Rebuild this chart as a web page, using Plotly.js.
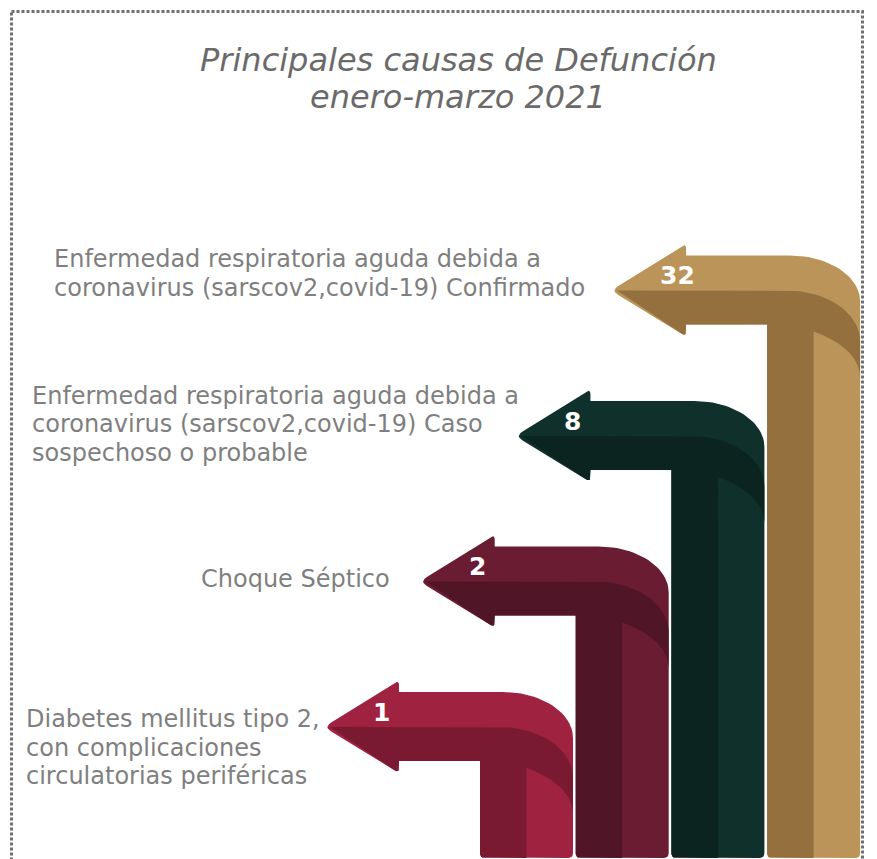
<!DOCTYPE html>
<html><head><meta charset="utf-8">
<script src="https://cdn.plot.ly/plotly-3.0.1.min.js"></script>
<style>html,body{margin:0;padding:0;background:#fff;} #chart{width:877px;height:859px;}</style>
</head><body><div id="chart"></div>
<script>
// ---- data ----
const categories = [
  "Enfermedad respiratoria aguda debida a<br>coronavirus (sarscov2,covid-19) Confirmado",
  "Enfermedad respiratoria aguda debida a<br>coronavirus (sarscov2,covid-19) Caso<br>sospechoso o probable",
  "Choque Séptico",
  "Diabetes mellitus tipo 2,<br>con complicaciones<br>circulatorias periféricas"
];
const values = [32, 8, 2, 1];
const titleLines = ["Principales causas de Defunción", "enero-marzo 2021"];

// ---- styles ----
const lightColors = ["#bb9459", "#10302b", "#6a1c33", "#9f2241"];
const darkColors  = ["#94703e", "#0c2420", "#511528", "#7a1a32"];
const labelLeft = [52, 30, 199, 24];
const labelMid  = [273.5, 424, 579, 747.5];

const W = 877, H = 859;
const n = values.length;
const order = values.map((v, i) => i).sort((a, b) => values[b] - values[a]);

function rounded(points) {
  const out = [], m = points.length;
  for (let i = 0; i < m; i++) {
    const [x, y, r] = points[i];
    if (!r) { out.push([x, y]); continue; }
    const [px, py] = points[(i - 1 + m) % m], [nx, ny] = points[(i + 1) % m];
    const d1 = Math.hypot(px - x, py - y), d2 = Math.hypot(nx - x, ny - y);
    const a = [x + (px - x) * r / d1, y + (py - y) * r / d1];
    const b = [x + (nx - x) * r / d2, y + (ny - y) * r / d2];
    for (let s = 0; s <= 6; s++) {
      const t = s / 6, u = 1 - t;
      out.push([u*u*a[0] + 2*u*t*x + t*t*b[0], u*u*a[1] + 2*u*t*y + t*t*b[1]]);
    }
  }
  out.push(out[0]);
  return out;
}
function arc(cx, cy, rx, ry, t0, t1, steps) {
  const pts = [];
  for (let s = 0; s <= steps; s++) {
    const t = (t0 + (t1 - t0) * s / steps) * Math.PI / 180;
    pts.push([cx + rx * Math.sin(t), cy - ry * Math.cos(t), 0]);
  }
  return pts;
}

const traces = [], annotations = [];
const bot = 858;
order.forEach((idx, rank) => {
  const k = n - 1 - rank;
  const tx = 324 + 95.7 * k, ty = 727 - 145.5 * k;
  const hb = tx + 75, yt = ty - 35, yb = ty + 34;
  const xl = tx + 156, xm = xl + 46.5, xr = xl + 93;

  const light = rounded([
    [tx, ty, 8], [hb, ty - 47, 5], [hb, yt, 0],
    ...arc(xl + 23, ty + 11, 70, 46, 0, 90, 24),
    [xr, bot, 5], [xl, bot, 5], [xl, yb, 0], [hb, yb, 0], [hb, ty + 46, 5]
  ]);
  const dark = rounded([
    [tx + 6, ty, 0],
    ...arc(xl + 20, ty + 51, 73, 51, 0, 90, 24),
    [xr, ty + 87, 0],
    ...arc(xl, ty + 87, 93, 53, 90, 30, 18),
    [xm, bot, 0], [xl, bot, 5], [xl, yb, 0], [hb, yb, 0], [hb, ty + 46, 5]
  ]);
  const hover = categories[idx].replace(/<br>/g, " ") + ": " + values[idx];
  [[light, lightColors[idx]], [dark, darkColors[idx]]].forEach(([pts, col]) => {
    traces.push({
      type: "scatter", mode: "lines", fill: "toself", fillcolor: col,
      x: pts.map(p => p[0]), y: pts.map(p => p[1]),
      line: {width: 0, color: col}, hoverinfo: "text", text: hover, showlegend: false
    });
  });

  annotations.push({
    x: tx + 47, y: ty - 15, xref: "x", yref: "y", xanchor: "left", yanchor: "middle",
    text: "<b>" + values[idx] + "</b>", showarrow: false,
    font: {family: "DejaVu Sans", size: 25, color: "#ffffff"}
  });

  const lines = categories[idx].split("<br>");
  lines.forEach((ln, j) => {
    annotations.push({
      x: labelLeft[rank], y: labelMid[rank] + (j - (lines.length - 1) / 2) * 28.5,
      xref: "x", yref: "y", xanchor: "left", yanchor: "middle",
      text: ln, showarrow: false,
      font: {family: "DejaVu Sans", size: 24, color: "#7f7f7f"}
    });
  });
});

titleLines.forEach((t, j) => {
  annotations.push({
    x: 458, y: 60 + 37 * j, xref: "x", yref: "y", xanchor: "center", yanchor: "middle",
    text: t, showarrow: false,
    font: {family: "DejaVu Sans", size: 32, color: "#6a6a6a", style: "italic"}
  });
});

const layout = {
  width: W, height: H,
  margin: {l: 0, r: 0, t: 0, b: 0},
  paper_bgcolor: "#ffffff", plot_bgcolor: "#ffffff",
  xaxis: {range: [0, W], visible: false, fixedrange: true},
  yaxis: {range: [H, 0], visible: false, fixedrange: true},
  showlegend: false,
  annotations: annotations,
  shapes: [{
    type: "rect", xref: "x", yref: "y", x0: 11.5, x1: 862.5, y0: 11.5, y1: 920,
    line: {color: "#707070", width: 3, dash: "3px,2px"}, layer: "below"
  }]
};

Plotly.newPlot("chart", traces, layout, {staticPlot: true, displayModeBar: false});
</script>
</body></html>
